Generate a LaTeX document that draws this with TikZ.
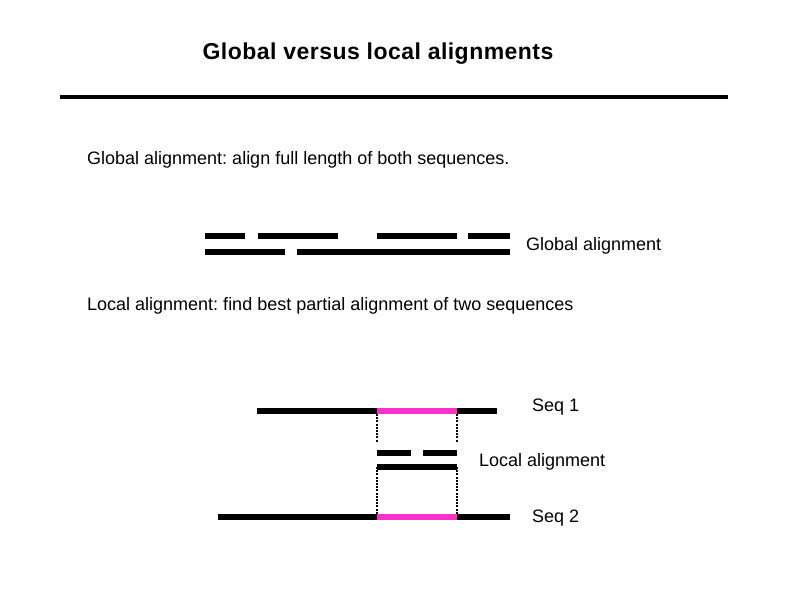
\documentclass[tikz,border=0pt]{standalone}
\usepackage{fontspec}
\setmainfont{Liberation Sans}
\usetikzlibrary{calc}
\definecolor{hitpink}{RGB}{250,50,200}

\begin{document}
\frenchspacing
\begin{tikzpicture}[x=1pt, y=-1pt,
    seg/.style={line width=6pt},
    hit/.style={line width=6pt, draw=hitpink},
    guide/.style={line width=2pt, dash pattern=on 2pt off 1.2pt},
    lbl/.style={anchor=west, inner sep=0pt, font=\fontsize{18}{20}\selectfont}]

    \useasboundingbox (0,0) rectangle (794,595);

    % タイトルと罫線
    \node[inner sep=0pt, font=\fontsize{23}{26}\selectfont\bfseries\addfontfeature{LetterSpace=2}] (title) at (378,54) {Global versus local alignments};
    \coordinate (R1) at (60,97);
    \coordinate (R2) at (728,97);
    \draw[line width=4pt] (R1) -- (R2);

    % 大域アラインメント
    \node[lbl] (gtext) at (87,160) {Global alignment: align full length of both sequences.};

    % 上の配列 (ギャップ付き)
    \draw[seg] (205,236) -- (245,236);
    \draw[seg] (258,236) -- (338,236);
    \draw[seg] (377,236) -- (457,236);
    \draw[seg] (468,236) -- (510,236);
    % 下の配列
    \draw[seg] (205,252) -- (285,252);
    \draw[seg] (297,252) -- (510,252);

    \node[lbl] (glabel) at (526,246) {Global alignment};

    % 局所アラインメント
    \node[lbl] (ltext) at (87,306) {Local alignment: find best partial alignment of two sequences};

    % Seq 1: 一致部分は x=377..457
    \coordinate (S1a) at (257,411);
    \coordinate (S1b) at (377,411);
    \coordinate (S1c) at (457,411);
    \coordinate (S1d) at (497,411);
    \draw[seg] (S1a) -- (S1b);
    \draw[hit] (S1b) -- (S1c);
    \draw[seg] (S1c) -- (S1d);

    % Seq 2
    \coordinate (S2a) at (218,517);
    \coordinate (S2b) at (377,517);
    \coordinate (S2c) at (457,517);
    \coordinate (S2d) at (510,517);
    \draw[seg] (S2a) -- (S2b);
    \draw[hit] (S2b) -- (S2c);
    \draw[seg] (S2c) -- (S2d);

    % 局所アラインメントの拡大
    \coordinate (L1) at (377,453);
    \coordinate (L2) at (411,453);
    \coordinate (L3) at (423,453);
    \coordinate (L4) at (457,453);
    \coordinate (M1) at (377,467);
    \coordinate (M2) at (457,467);
    \draw[seg] (L1) -- (L2);
    \draw[seg] (L3) -- (L4);
    \draw[seg] (M1) -- (M2);

    % 点線の補助線
    \draw[guide] ($(S1b)+(0,3)$) -- (377,442);
    \draw[guide] ($(S1c)+(0,3)$) -- (457,442);
    \draw[guide] (M1) -- ($(S2b)+(0,-3)$);
    \draw[guide] (M2) -- ($(S2c)+(0,-3)$);

    \node[lbl] (seq1) at (532,407) {Seq 1};
    \node[lbl] (llabel) at (479,462) {Local alignment};
    \node[lbl] (seq2) at (532,518) {Seq 2};

\end{tikzpicture}
\end{document}
